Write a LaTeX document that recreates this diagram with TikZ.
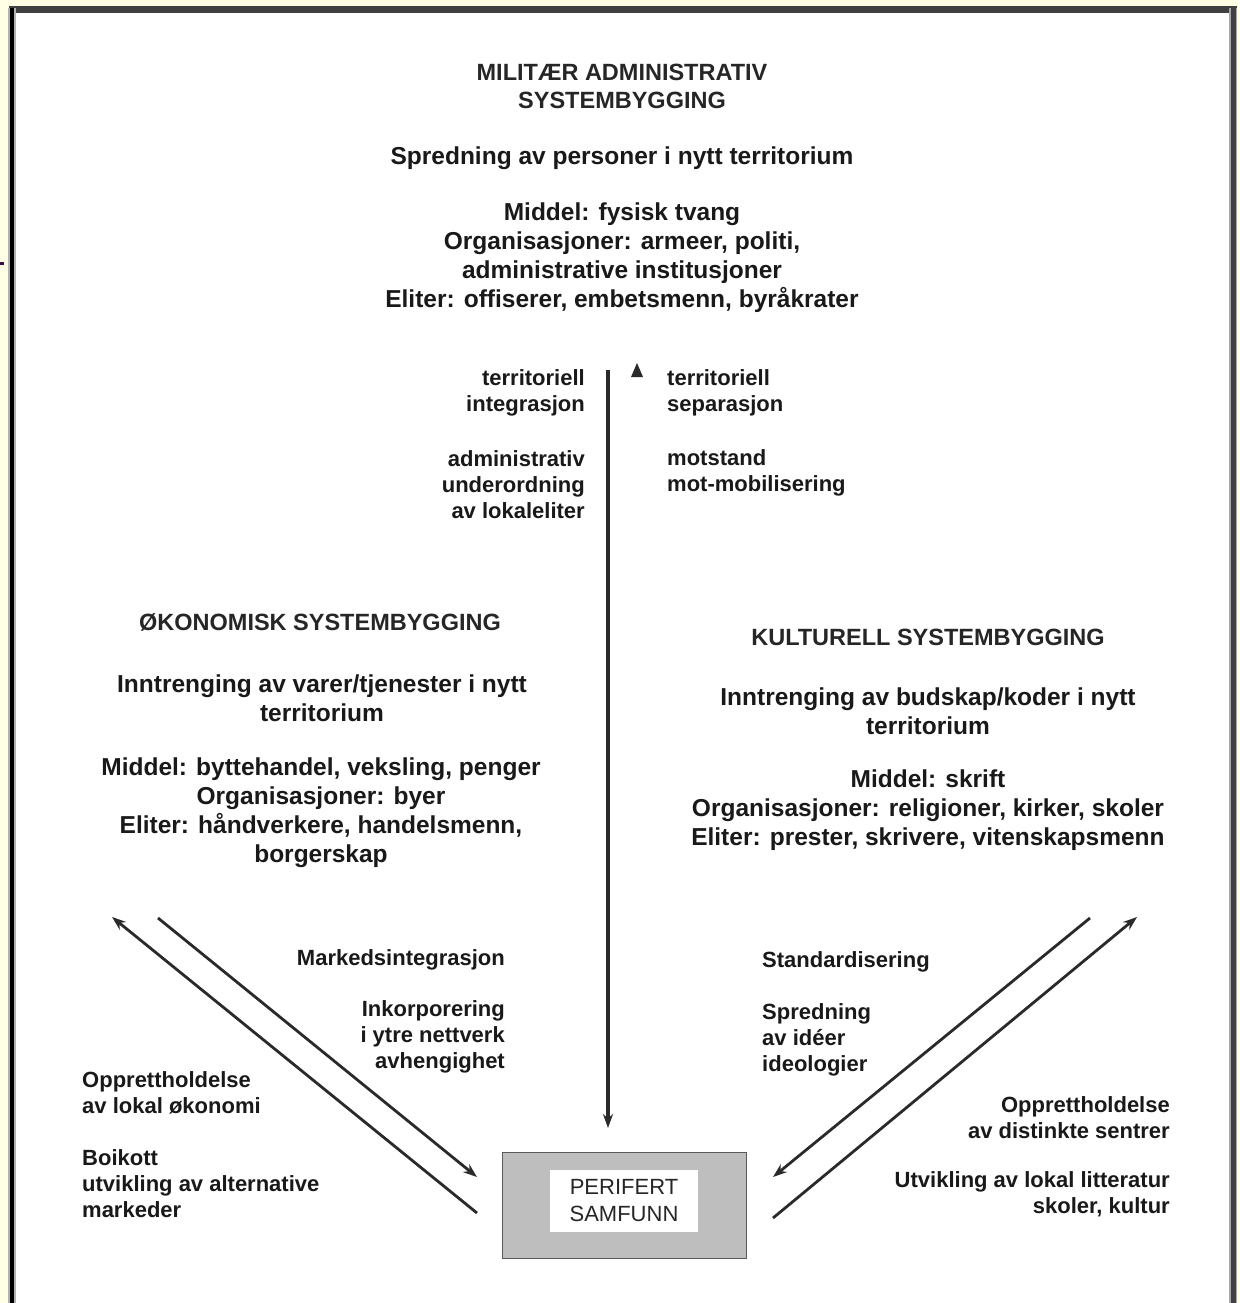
\documentclass[tikz,border=0pt]{standalone}
\usepackage{fontspec}
\setmainfont{Liberation Sans}
\usetikzlibrary{arrows.meta}
\definecolor{bgy}{HTML}{FFFFE6}
\definecolor{frame}{HTML}{404040}
\definecolor{arr}{HTML}{2A2A2A}
\definecolor{boxg}{HTML}{BEBEBE}
\definecolor{tick}{HTML}{3A1040}
\tikzset{
  main/.style={font=\bfseries\fontsize{24.5}{29}\selectfont, align=center, inner sep=0pt, text=black!90},
  ttl/.style={font=\bfseries\fontsize{23.5}{28}\selectfont, align=center, inner sep=0pt, text=black!85},
  lbl/.style={font=\bfseries\fontsize{22}{26}\selectfont, inner sep=0pt, text=black!90},
  lblr/.style={lbl, align=right, anchor=east},
  lbll/.style={lbl, align=left, anchor=west},
  conn/.style={draw=arr, line width=3.6pt, -{Stealth[length=14pt,width=10pt]}},
  diag/.style={draw=arr, line width=2.8pt, -{Stealth[length=14pt,width=10pt]}}
}
\begin{document}
\begin{tikzpicture}[x=1pt,y=-1pt]
\useasboundingbox (0,0) rectangle (1239,1303);
% frame
\fill[bgy] (0,0) rectangle (1239,1303);
\fill[white] (12,11) rectangle (1233,1303);
\fill[frame] (9,6) rectangle (1237,13);
\fill[gray!60] (8,8) rectangle (16,1303);
\fill[black] (10,8) rectangle (14,1303);
\fill[gray!70] (1229,8) rectangle (1237,1303);
\fill[frame] (1231,8) rectangle (1236,1303);
\fill[tick] (0,262) rectangle (4,265);

% top block
\node[ttl] (mil) at (622,86) {MILITÆR ADMINISTRATIV\\SYSTEMBYGGING};
\node[main] (milspr) at (622,158) {Spredning av personer i nytt territorium};
\node[main] (milmid) at (622,258) {Middel: fysisk tvang\\Organisasjoner: armeer, politi,\\administrative institusjoner\\Eliter: offiserer, embetsmenn, byråkrater};

% vertical arrow
\coordinate (vtop) at (608,370);
\coordinate (vbot) at (608,1128);
\draw[conn] (vtop) -- (vbot);
\coordinate (utip) at (637,363);
\fill[arr] (utip) -- (631,377) -- (643,377) -- cycle;

\node[lblr] (ti) at (585,393) {territoriell\\integrasjon};
\node[lblr] (au) at (585,485) {administrativ\\underordning\\av lokaleliter};
\node[lbll] (ts) at (667,393) {territoriell\\separasjon};
\node[lbll] (mm) at (667,473) {motstand\\mot-mobilisering};

% left block
\node[ttl] (oko) at (320,622) {ØKONOMISK SYSTEMBYGGING};
\node[main] (okoinn) at (322,698) {Inntrenging av varer/tjenester i nytt\\territorium};
\node[main] (okomid) at (321,813) {Middel: byttehandel, veksling, penger\\Organisasjoner: byer\\Eliter: håndverkere, handelsmenn,\\borgerskap};

% right block
\node[ttl] (kul) at (928,637) {KULTURELL SYSTEMBYGGING};
\node[main] (kulinn) at (928,711) {Inntrenging av budskap/koder i nytt\\territorium};
\node[main] (kulmid) at (928,810) {Middel: skrift\\Organisasjoner: religioner, kirker, skoler\\Eliter: prester, skrivere, vitenskapsmenn};

% peripheral box
\node[draw=gray!70!black, line width=1pt, fill=boxg, minimum width=244pt, minimum height=106pt, inner sep=0pt] (per) at (624,1205) {};
\node[fill=white, minimum width=148pt, minimum height=62pt, inner sep=0pt, font=\fontsize{22}{27}\selectfont, align=center, text=black!85] (perin) at (624,1201) {PERIFERT\\SAMFUNN};

% left diagonal arrows
\coordinate (l1a) at (477,1213);
\coordinate (l1b) at (112,917);
\coordinate (l2a) at (158,918);
\coordinate (l2b) at (477,1177);
\draw[diag] (l1a) -- (l1b);
\draw[diag] (l2a) -- (l2b);

% right diagonal arrows
\coordinate (r1a) at (1090,918);
\coordinate (r1b) at (773,1177);
\coordinate (r2a) at (773,1218);
\coordinate (r2b) at (1137,917);
\draw[diag] (r1a) -- (r1b);
\draw[diag] (r2a) -- (r2b);

% left labels
\node[lblr] (mi) at (505,960) {Markedsintegrasjon};
\node[lblr] (ink) at (505,1037) {Inkorporering\\i ytre nettverk\\avhengighet};
\node[lbll] (opl) at (82,1093) {Opprettholdelse\\av lokal økonomi};
\node[lbll] (boi) at (82,1184) {Boikott\\utvikling av alternative\\markeder};

% right labels
\node[lbll] (std) at (762,962) {Standardisering};
\node[lbll] (spr) at (762,1040) {Spredning\\av idéer\\ideologier};
\node[lblr] (opr) at (1170,1118) {Opprettholdelse\\av distinkte sentrer};
\node[lblr] (utv) at (1170,1194) {Utvikling av lokal litteratur\\skoler, kultur};
\end{tikzpicture}
\end{document}
